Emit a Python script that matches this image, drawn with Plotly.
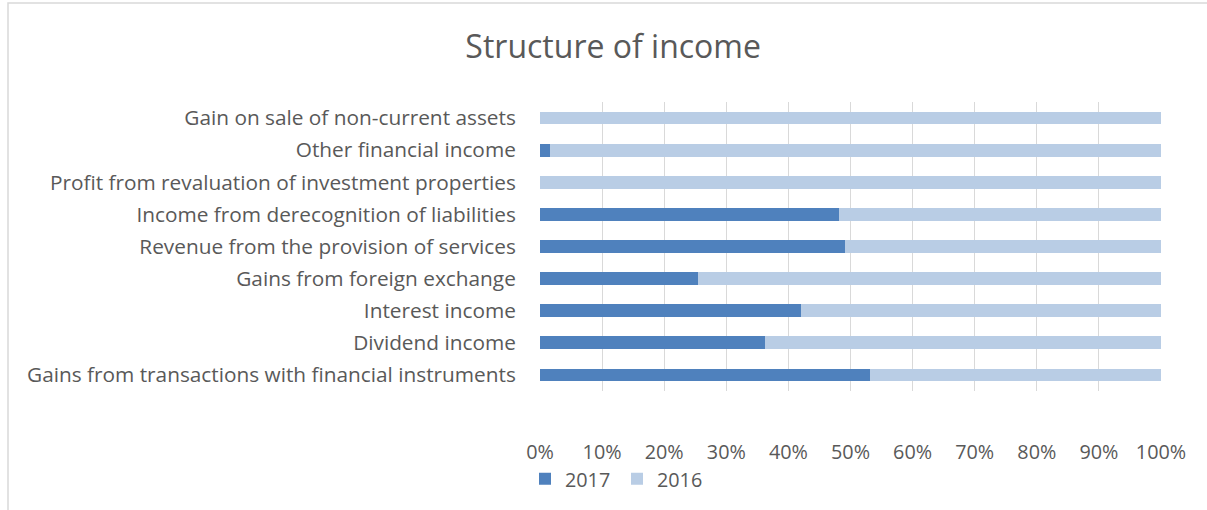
import plotly.graph_objects as go

categories = [
    "Gains from transactions with financial instruments",
    "Dividend income",
    "Interest income",
    "Gains from foreign exchange",
    "Revenue from the provision of services",
    "Income from derecognition of liabilities",
    "Profit from revaluation of investment properties",
    "Other financial income",
    "Gain on sale of non-current assets",
]
share_2017 = [53.1, 36.2, 42.0, 25.4, 49.1, 48.1, 0.0, 1.6, 0.0]
share_2016 = [46.9, 63.8, 58.0, 74.6, 50.9, 51.9, 100.0, 98.4, 100.0]
tick_vals = [0, 10, 20, 30, 40, 50, 60, 70, 80, 90, 100]
tick_text = ["0%", "10%", "20%", "30%", "40%", "50%", "60%", "70%", "80%", "90%", "100%"]

TXT = "#595959"
FONT = "Open Sans"

fig = go.Figure()
fig.add_trace(go.Bar(y=categories, x=share_2017, name="2017", orientation="h",
                     marker=dict(color="#4f81bd", line=dict(width=0))))
fig.add_trace(go.Bar(y=categories, x=share_2016, name="2016", orientation="h",
                     marker=dict(color="#b9cde5", line=dict(width=0))))

W, H = 1207, 510
ml, mr, mt, mb = 540, 46, 102, 119
pw, ph = W - ml - mr, H - mt - mb

def px_x(p):
    return (p - ml) / pw

def px_y(p):
    return (H - mb - p) / ph

fig.update_layout(
    width=W, height=H,
    margin=dict(l=ml, r=mr, t=mt, b=mb, pad=0),
    paper_bgcolor="white", plot_bgcolor="white",
    barmode="stack", bargap=0.6,
    font=dict(family=FONT, color=TXT, size=18.7),
    title=dict(text="Structure of income", x=0.508, xanchor="center",
               y=1 - 47 / H, yanchor="middle",
               font=dict(family=FONT, size=32, color=TXT)),
    xaxis=dict(range=[0, 100], tickvals=tick_vals, ticktext=tick_text,
               showgrid=True, gridcolor="#d9d9d9", gridwidth=1,
               zeroline=False, showline=False,
               ticks="outside", ticklen=43, tickcolor="rgba(0,0,0,0)",
               tickfont=dict(size=19.8, color=TXT, family=FONT), fixedrange=True),
    yaxis=dict(showgrid=False, zeroline=False, showline=False,
               ticks="outside", ticklen=19, tickcolor="rgba(0,0,0,0)",
               tickfont=dict(size=20.8, color=TXT, family=FONT),
               categoryorder="array", categoryarray=categories, fixedrange=True),
    legend=dict(orientation="h", x=px_x(525), xanchor="left",
                y=px_y(479), yanchor="middle", traceorder="normal",
                font=dict(size=19.8, color=TXT, family=FONT),
                itemwidth=30, entrywidth=47, entrywidthmode="pixels",
                bgcolor="rgba(0,0,0,0)"),
    showlegend=True,
    shapes=[dict(type="rect", xref="paper", yref="paper",
                 x0=px_x(8), x1=px_x(1215), y0=px_y(3), y1=px_y(520),
                 line=dict(color="#d9d9d9", width=1.5), layer="below")],
)

fig.write_html("out.html", config={"displayModeBar": False},
               post_script="document.body.style.margin='0';")
